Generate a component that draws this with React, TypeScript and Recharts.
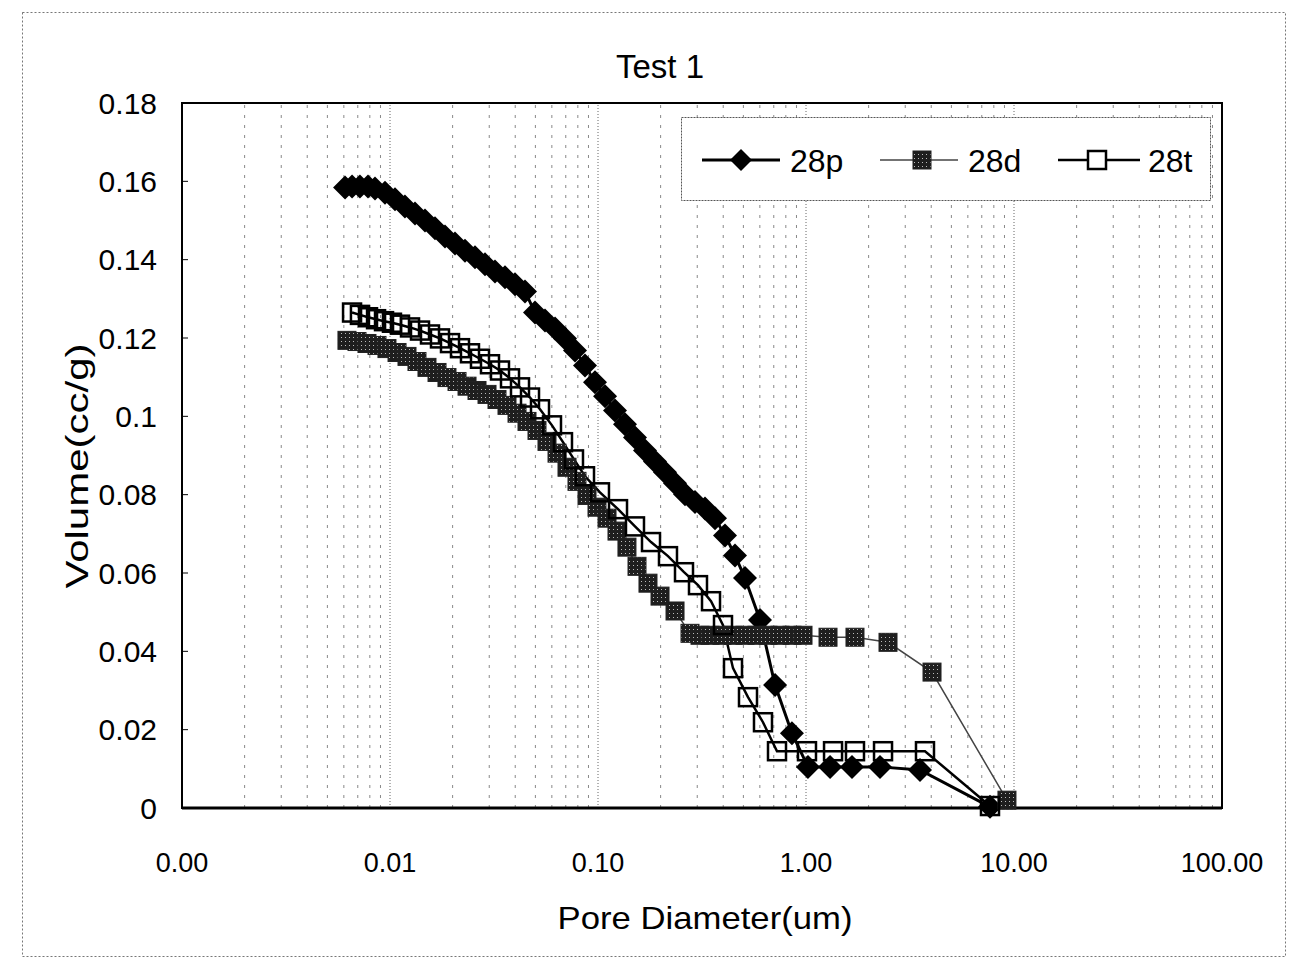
import React from 'react';
import { LineChart, Line, XAxis, YAxis, ReferenceLine, ReferenceArea, Legend } from 'recharts';

// ---- data ----
const x28p = [0.00608, 0.00657, 0.00717, 0.00784, 0.00847, 0.00946, 0.01057, 0.0118, 0.01319, 0.01473, 0.01646, 0.01838, 0.02054, 0.02294, 0.02563, 0.02863, 0.03198, 0.03573, 0.03991, 0.04458, 0.0498, 0.05563, 0.06215, 0.06939, 0.07752, 0.0866, 0.09673, 0.1081, 0.1207, 0.1348, 0.1506, 0.1683, 0.1879, 0.21, 0.2346, 0.262, 0.2927, 0.3269, 0.3652, 0.408, 0.4557, 0.509, 0.601, 0.71, 0.856, 1.022, 1.305, 1.664, 2.269, 3.533, 7.666];
const y28p = [0.1584, 0.1587, 0.1587, 0.1587, 0.1582, 0.1571, 0.1554, 0.1536, 0.1518, 0.15, 0.148, 0.1459, 0.1441, 0.1423, 0.1406, 0.1388, 0.137, 0.1355, 0.1337, 0.1319, 0.1265, 0.1245, 0.1224, 0.1199, 0.1168, 0.113, 0.1087, 0.1051, 0.1015, 0.098, 0.0946, 0.0913, 0.0885, 0.0857, 0.0829, 0.0801, 0.0781, 0.0765, 0.074, 0.0696, 0.0645, 0.0587, 0.048, 0.0314, 0.0191, 0.0105, 0.0105, 0.0105, 0.0105, 0.0097, 0.0003];

const x28d = [0.00621, 0.00694, 0.00775, 0.00866, 0.00967, 0.01081, 0.01207, 0.01348, 0.01506, 0.01683, 0.01879, 0.021, 0.02346, 0.0262, 0.02927, 0.03269, 0.03652, 0.0408, 0.04557, 0.0509, 0.05686, 0.06353, 0.07096, 0.07925, 0.08855, 0.0989, 0.1105, 0.1234, 0.1378, 0.154, 0.1739, 0.1987, 0.2346, 0.2769, 0.3093, 0.3455, 0.3947, 0.4457, 0.509, 0.5813, 0.6568, 0.7499, 0.8565, 0.9674, 1.276, 1.72, 2.479, 4.035, 9.25];
const y28d = [0.1194, 0.1191, 0.1186, 0.1181, 0.1173, 0.1163, 0.1153, 0.114, 0.1125, 0.1112, 0.1099, 0.1089, 0.1077, 0.1066, 0.1056, 0.1043, 0.1028, 0.1008, 0.0987, 0.0964, 0.0936, 0.0906, 0.087, 0.0834, 0.0798, 0.0768, 0.074, 0.0707, 0.0666, 0.0617, 0.0574, 0.0541, 0.0503, 0.0446, 0.0441, 0.0441, 0.0441, 0.0441, 0.0441, 0.0441, 0.0441, 0.0441, 0.0441, 0.0441, 0.0436, 0.0436, 0.0423, 0.0347, 0.002];

const x28t = [0.00657, 0.00717, 0.00784, 0.00857, 0.00936, 0.01022, 0.01117, 0.01248, 0.01394, 0.01557, 0.01739, 0.01943, 0.0217, 0.02424, 0.02708, 0.03025, 0.03379, 0.03775, 0.04217, 0.04711, 0.05262, 0.06009, 0.06787, 0.07666, 0.0866, 0.1022, 0.1248, 0.1506, 0.1798, 0.217, 0.2591, 0.3025, 0.3494, 0.399, 0.4457, 0.5262, 0.6212, 0.7254, 1.011, 1.349, 1.72, 2.346, 3.733, 7.666];
const y28t = [0.1265, 0.1259, 0.1253, 0.1248, 0.1243, 0.1239, 0.1234, 0.1227, 0.1219, 0.1209, 0.1199, 0.1187, 0.1174, 0.1161, 0.1147, 0.1133, 0.1117, 0.1097, 0.1074, 0.1048, 0.1018, 0.0977, 0.0934, 0.089, 0.0847, 0.0806, 0.0763, 0.0719, 0.0679, 0.0643, 0.0602, 0.0569, 0.0528, 0.0467, 0.0357, 0.0283, 0.0219, 0.0145, 0.0145, 0.0145, 0.0145, 0.0145, 0.0145, 0.0005];

const seriesNames = ['28p', '28d', '28t'];
const xTicks = [0.001, 0.01, 0.1, 1, 10, 100];
const yTicks = [0, 0.02, 0.04, 0.06, 0.08, 0.1, 0.12, 0.14, 0.16, 0.18];
const chartTitle = 'Test 1';
const xTitle = 'Pore Diameter(um)';
const yTitle = 'Volume(cc/g)';

const zip = (xs: number[], ys: number[]) => xs.map((x, i) => ({ x, y: ys[i] }));
const data28p = zip(x28p, y28p);
const data28d = zip(x28d, y28d);
const data28t = zip(x28t, y28t);

// log gridlines (2..9 x 10^k plus decades)
const gridValues: number[] = [];
for (let k = -3; k <= 1; k++) {
  for (let m = 1; m <= 9; m++) {
    const v = m * Math.pow(10, k);
    if (v > 0.001 && v < 100) gridValues.push(Number(v.toPrecision(3)));
  }
}

const FONT = '"Liberation Sans", Arial, sans-serif';
const W = 1290;
const H = 950;

const Diamond = (p: any) => {
  const { cx, cy, index } = p;
  if (cx == null || cy == null) return <g key={`p-${index}`} />;
  const r = 12;
  return <path key={`p-${index}`} d={`M${cx},${cy - r}L${cx + r},${cy}L${cx},${cy + r}L${cx - r},${cy}Z`} fill="#000" />;
};
const PatSquare = (p: any) => {
  const { cx, cy, index } = p;
  if (cx == null || cy == null) return <g key={`d-${index}`} />;
  const r = 9;
  return <rect key={`d-${index}`} x={cx - r} y={cy - r} width={2 * r} height={2 * r} fill="url(#pat28d)" stroke="#222" strokeWidth={1} />;
};
const OpenSquare = (p: any) => {
  const { cx, cy, index } = p;
  if (cx == null || cy == null) return <g key={`t-${index}`} />;
  const r = 9;
  return <rect key={`t-${index}`} x={cx - r} y={cy - r} width={2 * r} height={2 * r} fill="none" stroke="#000" strokeWidth={2.5} />;
};

const YTick = (p: any) => {
  const { x, y, payload } = p;
  const v = payload.value as number;
  return (
    <g>
      <line x1={x} x2={x + 6} y1={y} y2={y} stroke="#000" strokeWidth={1} />
      <text x={x - 25} y={y} dy="0.36em" textAnchor="end" fontFamily={FONT} fontSize={30} fill="#000">
        {String(Number(v.toFixed(2)))}
      </text>
    </g>
  );
};
const XTick = (p: any) => {
  const { x, y, payload } = p;
  const v = payload.value as number;
  return (
    <text x={x} y={y + 64} textAnchor="middle" fontFamily={FONT} fontSize={27} fill="#000">
      {v.toFixed(2)}
    </text>
  );
};

const LegendBox = () => (
  <svg width={531} height={85} style={{ display: 'block' }}>
    <defs>
      <pattern id="pat28dLeg" width={4} height={4} patternUnits="userSpaceOnUse">
        <rect width={4} height={4} fill="#1e1e1e" />
        <rect x={1} y={1} width={1} height={1} fill="#bbb" />
      </pattern>
    </defs>
    <rect x={0.5} y={0.5} width={529} height={83} fill="#fff" stroke="#555" strokeWidth={1} strokeDasharray="2 1" />
    <line x1={21} x2={99} y1={43} y2={43} stroke="#000" strokeWidth={3} />
    <path d="M60,32L71,43L60,54L49,43Z" fill="#000" />
    <text x={109} y={55} fontFamily={FONT} fontSize={32} fill="#000">{seriesNames[0]}</text>
    <line x1={199} x2={277} y1={43} y2={43} stroke="#444" strokeWidth={1.5} />
    <rect x={232} y={34} width={18} height={18} fill="url(#pat28dLeg)" stroke="#222" />
    <text x={287} y={55} fontFamily={FONT} fontSize={32} fill="#000">{seriesNames[1]}</text>
    <line x1={377} x2={459} y1={43} y2={43} stroke="#000" strokeWidth={2.5} />
    <rect x={407} y={34} width={18} height={18} fill="#fff" stroke="#000" strokeWidth={2.5} />
    <text x={467} y={55} fontFamily={FONT} fontSize={32} fill="#000">{seriesNames[2]}</text>
  </svg>
);

export default function App() {
  return (
    <div style={{ position: 'relative', width: W, height: H, background: '#fff' }}>
      <LineChart width={W} height={H} margin={{ top: 95, right: 76, bottom: 90, left: 94 }}>
        <defs>
          <pattern id="pat28d" width={4} height={4} patternUnits="userSpaceOnUse">
            <rect width={4} height={4} fill="#1e1e1e" />
            <rect x={1} y={1} width={1} height={1} fill="#bbb" />
          </pattern>
        </defs>
        <XAxis
          dataKey="x"
          type="number"
          scale="log"
          domain={[0.001, 100]}
          ticks={xTicks}
          allowDataOverflow
          height={60}
          tickSize={0}
          tickMargin={0}
          tick={<XTick />}
          axisLine={{ stroke: '#000', strokeWidth: 3 }}
          tickLine={false}
        />
        <YAxis
          type="number"
          domain={[0, 0.18]}
          ticks={yTicks}
          width={80}
          tickSize={0}
          tickMargin={0}
          tick={<YTick />}
          axisLine={{ stroke: '#000', strokeWidth: 2 }}
          tickLine={false}
        />
        {gridValues.map((v) => {
          const major = Math.abs(Math.log10(v) - Math.round(Math.log10(v))) < 1e-6;
          return (
            <ReferenceLine
              key={`g-${v}`}
              x={v}
              stroke={major ? '#666' : '#888'}
              strokeWidth={1}
              strokeDasharray={major ? '1 2' : '3 7'}
            />
          );
        })}
        <ReferenceArea x1={0.001} x2={100} y1={0} y2={0.18} fill="none" stroke="#000" strokeWidth={2} />
        <Line data={data28p} dataKey="y" name={seriesNames[0]} stroke="#000" strokeWidth={3} dot={Diamond} activeDot={false} isAnimationActive={false} />
        <Line data={data28d} dataKey="y" name={seriesNames[1]} stroke="#444" strokeWidth={1.5} dot={PatSquare} activeDot={false} isAnimationActive={false} />
        <Line data={data28t} dataKey="y" name={seriesNames[2]} stroke="#000" strokeWidth={2.5} dot={OpenSquare} activeDot={false} isAnimationActive={false} />
        <Legend
          layout="horizontal"
          verticalAlign="middle"
          align="center"
          content={() => <LegendBox />}
          wrapperStyle={{ position: 'absolute', left: 673, top: 109, width: 531, height: 85 }}
        />
      </LineChart>
      <svg width={W} height={H} style={{ position: 'absolute', left: 0, top: 0, pointerEvents: 'none' }}>
        <rect x={14.5} y={4.5} width={1263} height={944} fill="none" stroke="#777" strokeWidth={1} strokeDasharray="2 2" />
        <text x={652} y={70} textAnchor="middle" fontFamily={FONT} fontSize={33} fill="#000">{chartTitle}</text>
        <text x={697} y={921} textAnchor="middle" fontFamily={FONT} fontSize={32} fill="#000" textLength={295} lengthAdjust="spacingAndGlyphs">{xTitle}</text>
        <text x={80} y={458} textAnchor="middle" fontFamily={FONT} fontSize={32} fill="#000" transform="rotate(-90 80 458)" textLength={245} lengthAdjust="spacingAndGlyphs">{yTitle}</text>
      </svg>
    </div>
  );
}
